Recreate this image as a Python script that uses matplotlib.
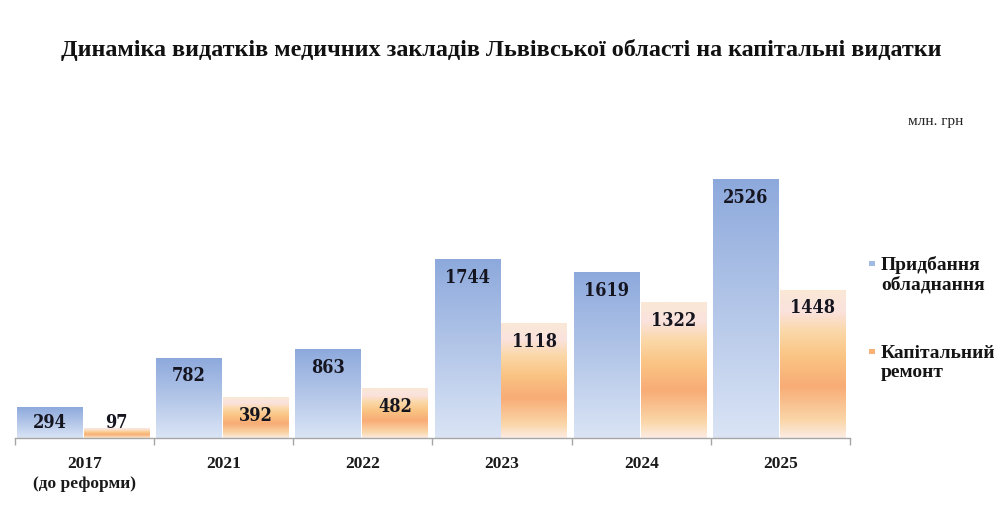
import numpy as np
import matplotlib
matplotlib.use("Agg")
import matplotlib.pyplot as plt
from matplotlib.colors import LinearSegmentedColormap
from matplotlib.patches import Rectangle

years = ["2017\n(до реформи)", "2021", "2022", "2023", "2024", "2025"]
equipment = [294, 782, 863, 1744, 1619, 2526]
repairs = [97, 392, 482, 1118, 1322, 1448]

title = "Динаміка видатків медичних закладів Львівської області на капітальні видатки"
series_names = ["Придбання\nобладнання", "Капітальний\nремонт"]

serif = ["Liberation Serif", "DejaVu Serif"]
label_font = ["DejaVu Serif Condensed", "DejaVu Serif"]

blue_cmap = LinearSegmentedColormap.from_list(
    "blue_grad",
    [(0.0, (218 / 255, 228 / 255, 245 / 255)),
     (1.0, (141 / 255, 169 / 255, 220 / 255))]
)
orange_cmap = LinearSegmentedColormap.from_list(
    "orange_grad",
    [(0.0, (252 / 255, 236 / 255, 228 / 255)),
     (0.12, (250 / 255, 214 / 255, 168 / 255)),
     (0.35, (248 / 255, 172 / 255, 118 / 255)),
     (0.55, (250 / 255, 196 / 255, 132 / 255)),
     (0.72, (251 / 255, 216 / 255, 168 / 255)),
     (0.86, (250 / 255, 226 / 255, 222 / 255)),
     (1.0, (250 / 255, 232 / 255, 214 / 255))]
)

fig = plt.figure(figsize=(10, 5.18), dpi=100)
ax = fig.add_axes([0.015, 0.1544, 0.835, 0.6525])

x = np.arange(len(years))
width = 0.47
ymax = 3309

grad = np.linspace(0, 1, 256).reshape(-1, 1)

def gradient_bars(xpos, values, cmap):
    bars = ax.bar(xpos, values, width, color="none", edgecolor="none", zorder=2)
    for b in bars:
        x0, y0 = b.get_x(), b.get_y()
        ax.imshow(
            grad, cmap=cmap, origin="lower", aspect="auto",
            extent=[x0, x0 + b.get_width(), y0, y0 + b.get_height()],
            zorder=1, interpolation="bicubic"
        )
    return bars

blue_bars = gradient_bars(x - 0.25, equipment, blue_cmap)
orange_bars = gradient_bars(x + 0.23, repairs, orange_cmap)

ax.set_xlim(-0.5, len(years) - 0.5)
ax.set_ylim(0, ymax)

px_per_unit = 0.6525 * 518 / ymax

for bars, vals in [(blue_bars, equipment), (orange_bars, repairs)]:
    for b, v in zip(bars, vals):
        h_px = v * px_per_unit
        center_px = max(h_px - 18, 15)
        ax.text(
            b.get_x() + b.get_width() / 2, center_px / px_per_unit, str(v),
            ha="center", va="center", fontsize=13, fontweight="bold",
            family=label_font, fontstretch="condensed",
            color="#151520", zorder=3
        )

for s in ["top", "left", "right"]:
    ax.spines[s].set_visible(False)
ax.spines["bottom"].set_color("#a6a6a6")
ax.spines["bottom"].set_linewidth(1.0)
ax.set_yticks([])
ax.set_xticks(x)
ax.set_xticklabels(years, fontsize=12.5, fontweight="bold", family=serif,
                   color="#1a1a1a", linespacing=1.3)
ax.tick_params(axis="x", which="major", length=0, pad=13)
ax.set_xticks(np.arange(-0.5, len(years)), minor=True)
ax.tick_params(axis="x", which="minor", length=5, color="#a6a6a6", width=1.0)

fig.text(0.501, 0.903, title, ha="center", va="center", fontsize=17.4,
         fontweight="bold", family=serif, color="#111111")

fig.text(0.936, 0.766, "млн. грн", ha="center", va="center", fontsize=11,
         family=serif, color="#222222")

legend_y = [0.47, 0.30]
legend_colors = [(160 / 255, 186 / 255, 228 / 255), (247 / 255, 178 / 255, 120 / 255)]
for name, ly, c in zip(series_names, legend_y, legend_colors):
    fig.patches.append(Rectangle((0.869, ly + 0.016), 0.006, 0.011,
                                 transform=fig.transFigure, facecolor=c,
                                 edgecolor="none"))
    fig.text(0.881, ly, name, ha="left", va="center", fontsize=14,
             fontweight="bold", family=serif, color="#151515", linespacing=1.15)

fig.savefig("out.png", dpi=100)
